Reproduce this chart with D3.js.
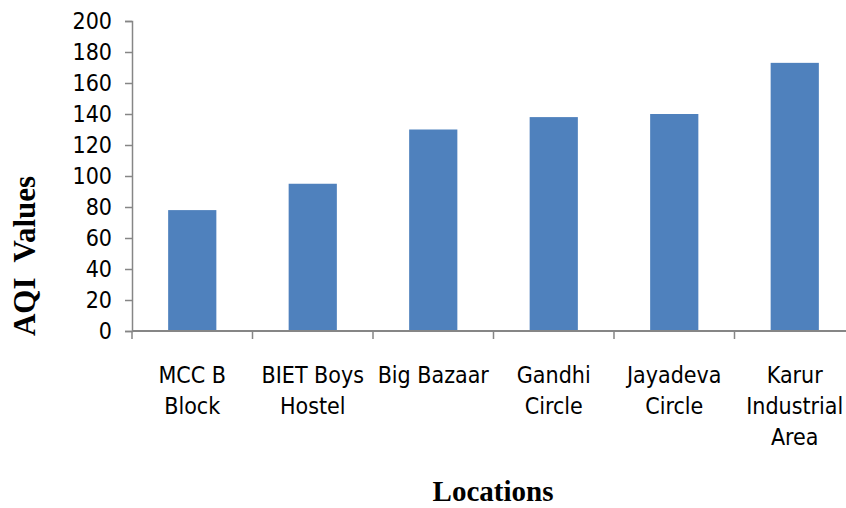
<!DOCTYPE html>
<html>
<head>
<meta charset="utf-8">
<script src="https://cdn.jsdelivr.net/npm/d3@7"></script>
<style>
  body { margin: 0; background: #fff; }
  svg { display: block; }
</style>
</head>
<body>
<script>
var locations = ["MCC B Block", "BIET Boys Hostel", "Big Bazaar", "Gandhi Circle", "Jayadeva Circle", "Karur Industrial Area"];
var labelLines = [["MCC B", "Block"], ["BIET Boys", "Hostel"], ["Big Bazaar"], ["Gandhi", "Circle"], ["Jayadeva", "Circle"], ["Karur", "Industrial", "Area"]];
var aqi = [78, 95, 130, 138, 140, 173];
var yTicks = [0, 20, 40, 60, 80, 100, 120, 140, 160, 180, 200];

var width = 846, height = 508;
var plotLeft = 132, plotRight = 855, plotTop = 21, plotBottom = 331;
var axisColor = "#868686";
var labelFont = "'DejaVu Sans Condensed', 'Liberation Sans', sans-serif";

var svg = d3.select("body").append("svg")
    .attr("width", width)
    .attr("height", height);

var x = d3.scaleBand()
    .domain(locations)
    .range([plotLeft, plotRight])
    .paddingInner(0.6)
    .paddingOuter(0.3);

var y = d3.scaleLinear()
    .domain([0, 200])
    .range([plotBottom, plotTop]);

// bars
svg.selectAll(".bar").data(aqi)
    .enter().append("rect")
    .attr("class", "bar")
    .attr("x", function(d, i) { return x(locations[i]); })
    .attr("y", function(d) { return y(d); })
    .attr("width", x.bandwidth())
    .attr("height", function(d) { return y(0) - y(d); })
    .attr("fill", "#4F81BD");

// y axis
var yAxis = svg.append("g")
    .attr("transform", "translate(" + plotLeft + ",0)")
    .call(d3.axisLeft(y).tickValues(yTicks).tickSize(7).tickPadding(13));
yAxis.select(".domain").attr("stroke", axisColor).attr("stroke-width", 1.5);
yAxis.selectAll(".tick line").attr("stroke", axisColor).attr("stroke-width", 1.5);
yAxis.selectAll(".tick text")
    .attr("fill", "#000")
    .style("font-family", labelFont)
    .style("font-size", "23px");

// x axis with ticks at band boundaries
var step = x.step();
var bounds = locations.map(function(d) { return x(d) - x.paddingOuter() * step; });
var xg = svg.append("g");
xg.append("line")
    .attr("x1", plotLeft).attr("x2", plotRight)
    .attr("y1", plotBottom).attr("y2", plotBottom)
    .attr("stroke", axisColor).attr("stroke-width", 2);
xg.selectAll(".xtick").data(bounds)
    .enter().append("line")
    .attr("x1", function(d) { return d; })
    .attr("x2", function(d) { return d; })
    .attr("y1", plotBottom).attr("y2", plotBottom + 8)
    .attr("stroke", axisColor).attr("stroke-width", 1.5);

var lbl = xg.selectAll(".xlabel").data(labelLines)
    .enter().append("text")
    .attr("text-anchor", "middle")
    .style("font-family", labelFont)
    .style("font-size", "23px")
    .attr("fill", "#000");
lbl.each(function(lines, i) {
    var cx = x(locations[i]) + x.bandwidth() / 2;
    d3.select(this).selectAll("tspan").data(lines)
        .enter().append("tspan")
        .attr("x", cx)
        .attr("y", function(d, j) { return 383 + j * 31; })
        .text(function(d) { return d; });
});

// axis titles
svg.append("text")
    .attr("transform", "translate(35,256) rotate(-90)")
    .attr("text-anchor", "middle")
    .style("font-family", "'Liberation Serif', 'Times New Roman', serif")
    .style("font-weight", "bold")
    .style("font-size", "31px")
    .attr("xml:space", "preserve")
    .style("white-space", "pre")
    .text("AQI  Values");

svg.append("text")
    .attr("x", 493)
    .attr("y", 501)
    .attr("text-anchor", "middle")
    .style("font-family", "'Liberation Serif', 'Times New Roman', serif")
    .style("font-weight", "bold")
    .style("font-size", "29px")
    .text("Locations");
</script>
</body>
</html>
